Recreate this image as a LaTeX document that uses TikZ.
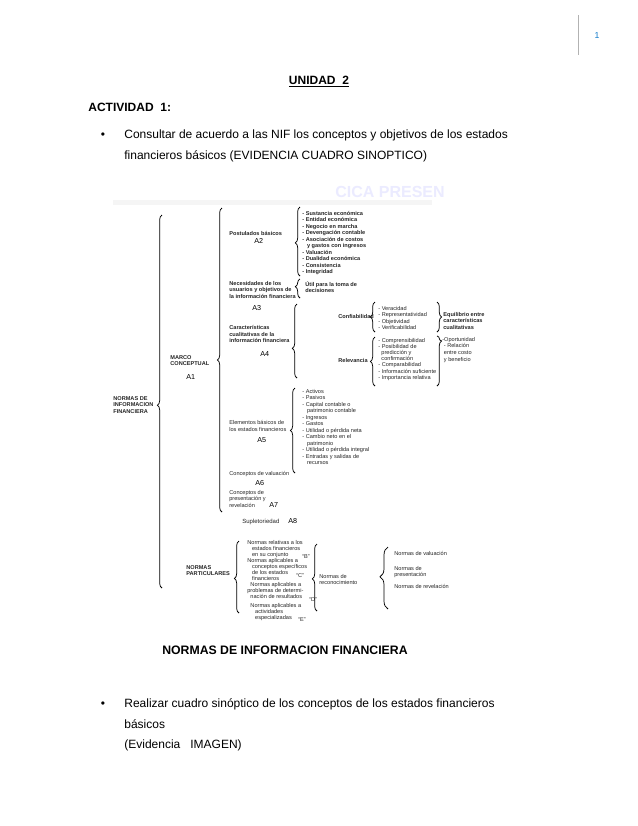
\documentclass[tikz,border=0pt]{standalone}
\usepackage{fontspec}
\setmainfont{Liberation Sans}
\usetikzlibrary{decorations.pathreplacing}
\newcommand\Brc[4]{\draw[decorate,decoration={brace,amplitude=3.5pt,aspect=#1}] (#2,#4) -- (#2,#3);}
\newcommand\Rbrc[4]{\draw[decorate,decoration={brace,amplitude=3.5pt,aspect=#1}] (#2,#3) -- (#2,#4);}
\tikzset{
 body/.style={anchor=base west,font=\fontsize{9}{10}\selectfont,inner sep=0},
 dg/.style={anchor=base west,font=\fontsize{4.2}{4.9}\selectfont,inner sep=0,text=black!85},
 dgb/.style={dg,font=\fontsize{4.2}{4.9}\selectfont\bfseries},
 lab/.style={anchor=base west,font=\fontsize{5.4}{6}\selectfont,inner sep=0},
}
\begin{document}
\begin{tikzpicture}[x=0.75pt,y=-0.75pt,line width=0.55pt]
\useasboundingbox (0,0) rectangle (638,826);
\fill[white] (0,0) rectangle (638,826);
% header
\draw[gray!60,line width=0.4pt] (578,15) -- (578,55);
\node[anchor=base,font=\fontsize{6.5}{8}\selectfont,text=cyan!60!blue,inner sep=0] at (597,38) {1};
\node[anchor=base,font=\fontsize{9}{10}\selectfont\bfseries,inner sep=0] at (319,84) {\underline{UNIDAD\ \ 2}};
\node[body,font=\fontsize{9}{10}\selectfont\bfseries] at (88,111) {ACTIVIDAD\ \ 1:};
\node[anchor=base,inner sep=0,font=\fontsize{9}{10}\selectfont] at (103,138) {\textbullet};
\node[body] at (124,138) {Consultar de acuerdo a las NIF los conceptos y objetivos de los estados};
\node[body] at (124,159) {financieros básicos (EVIDENCIA CUADRO SINOPTICO)};
% watermark
\node[font=\fontsize{12}{12}\selectfont\bfseries,text=blue!8,inner sep=0] at (390,192) {CICA PRESEN};
\fill[gray!8] (113,200) rectangle (432,205);
% main brace
\Brc{0.49}{162}{215}{588}
\node[dgb,align=left,anchor=north west] at (113,396) {NORMAS DE\\INFORMACION\\FINANCIERA};
% marco conceptual
\Brc{0.5}{222}{208}{512}
\node[dgb,align=left,anchor=north west] at (170,355) {MARCO\\CONCEPTUAL};
\node[lab] at (186,379) {A1};
% A2
\node[dgb] at (229,235) {Postulados básicos};
\node[lab] at (254,243) {A2};
\Brc{0.48}{300}{207}{276}
\foreach \t/\y in {- Sustancia económica/215,- Entidad económica/221.5,- Negocio en marcha/228,- Devengación contable/234.5,- Asociación de costos/241,\ \ \ y gastos con ingresos/247.5,- Valuación/254,- Dualidad económica/260.5,- Consistencia/267,- Integridad/273.5}
  \node[dgb] at (302,\y) {\t};
% A3
\node[dgb,align=left,anchor=north west] at (229,281) {Necesidades de los\\usuarios y objetivos de\\la información financiera};
\node[lab] at (252,310) {A3};
\Brc{0.6}{300}{279}{298}
\node[dgb,align=left,anchor=north west] at (305,281) {Útil para la toma de\\decisiones};
% A4
\node[dgb,align=left,anchor=north west] at (229,325) {Características\\cualitativas de la\\información financiera};
\node[lab] at (260,356) {A4};
\Brc{0.4}{297}{304}{378}
\node[dgb] at (338,318) {Confiabilidad};
\node[dgb] at (338,362) {Relevancia};
\Brc{0.5}{375}{302}{332}
\foreach \t/\y in {Veracidad/310,Representatividad/316.5,Objetividad/323,Verificabilidad/329.5}
  \node[dg] at (378,\y) {- \t};
\Brc{0.5}{375}{337}{386}
\foreach \t/\y in {- Comprensibilidad/342,- Posibilidad de/348,\ \ predicción y/354,\ \ confirmación/360,- Comparabilidad/366.5,- Información suficiente/373,- Importancia relativa/379.5}
  \node[dg] at (378,\y) {\t};
\Rbrc{0.5}{437}{302}{332}
\Rbrc{0.1}{437}{336}{386}
\node[dgb,align=left,anchor=north west] at (443,312) {Equilibrio entre\\características\\cualitativas};
\node[dg,align=left,anchor=north west] at (442,337) {-Oportunidad\\\ - Relación\\\ entre costo\\\ y beneficio};
% A5
\node[dg,align=left,anchor=north west] at (229,420) {Elementos básicos de\\los estados financieros};
\node[lab] at (257,442) {A5};
\Brc{0.5}{295}{388}{473}
\foreach \t/\y in {- Activos/393,- Pasivos/399.5,- Capital contable o/406,\ \ \ patrimonio contable/412.5,- Ingresos/419,- Gastos/425.5,- Utilidad o pérdida neta/432,- Cambio neto en el/438.5,\ \ \ patrimonio/445,- Utilidad o pérdida integral/451.5,- Entradas y salidas de/458,\ \ \ recursos/464.5}
  \node[dg] at (302,\y) {\t};
% A6 A7 A8
\node[dg] at (229,475) {Conceptos de valuación};
\node[lab] at (255,485) {A6};
\node[dg,align=left,anchor=north west] at (229,490) {Conceptos de\\presentación y\\revelación};
\node[lab] at (269,507) {A7};
\node[dg,font=\fontsize{4.5}{5}\selectfont] at (242,523) {Supletoriedad};
\node[lab] at (288,523) {A8};
% normas particulares
\node[dgb,align=left,anchor=north west] at (186,565) {NORMAS\\PARTICULARES};
\Brc{0.48}{239}{541}{613}
\foreach \t/\y in {Normas relativas a los/544,\ \ \ estados financieros/550,\ \ \ en su conjunto/556,Normas aplicables a/562,\ \ \ conceptos específicos/568,\ \ \ de los estados/574,\ \ \ financieros/580,\ \ Normas aplicables a/586,problemas de determi-/592,\ \ nación de resultados/598,\ \ Normas aplicables a/607,\ \ \ \ \ actividades/613,\ \ \ \ \ especializadas/619}
  \node[dg] at (247,\y) {\t};
\node[dg] at (302,558) {``B''};
\node[dg] at (296,577) {``C''};
\node[dg] at (309,601) {``D''};
\node[dg] at (298,621) {``E''};
\Brc{0.48}{317}{544}{611}
\node[dg,align=left,anchor=north west] at (319,574) {Normas de\\reconocimiento};
\draw[decorate,decoration={brace,amplitude=6pt,aspect=0.52}] (388,609) -- (388,547);
\node[dg] at (394,555) {Normas de valuación};
\node[dg,align=left,anchor=north west] at (394,566) {Normas de\\presentación};
\node[dg] at (394,588) {Normas de revelación};
\node[anchor=base,inner sep=0,font=\fontsize{9.2}{10}\selectfont\bfseries] at (285,654) {NORMAS DE INFORMACION FINANCIERA};
% bullet 2
\node[anchor=base,inner sep=0,font=\fontsize{9}{10}\selectfont] at (103,707) {\textbullet};
\node[body] at (124,707) {Realizar cuadro sinóptico de los conceptos de los estados financieros};
\node[body] at (124,728) {básicos};
\node[body] at (124,748) {(Evidencia\ \ \ IMAGEN)};
\end{tikzpicture}
\end{document}
